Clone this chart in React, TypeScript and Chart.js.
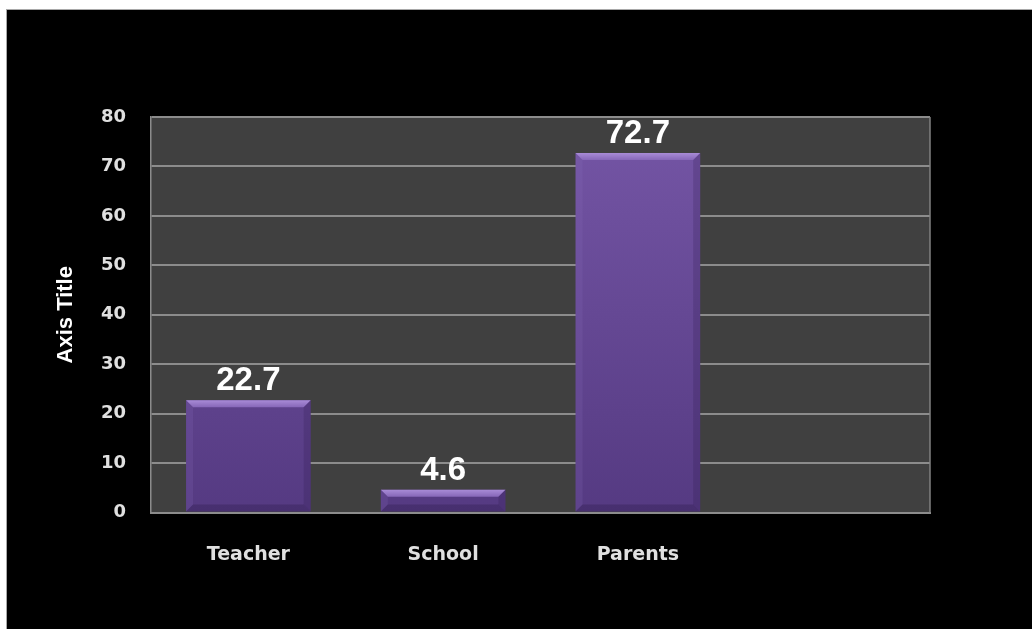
import React, { useEffect, useRef } from "react";
import { Chart, registerables } from "chart.js";

Chart.register(...registerables);

const categories = ["Teacher", "School", "Parents", ""];
const values = [22.7, 4.6, 72.7, null];
const yTicks = { min: 0, max: 80, step: 10 };
const axisTitle = "Axis Title";

const plotFrame = {
  id: "plotFrame",
  beforeDraw(chart: any) {
    const { ctx, chartArea: a } = chart;
    ctx.save();
    ctx.fillStyle = "#404040";
    ctx.fillRect(a.left, a.top, a.right - a.left, a.bottom - a.top);
    ctx.restore();
  },
  afterDraw(chart: any) {
    const { ctx, chartArea: a } = chart;
    ctx.save();
    ctx.strokeStyle = "#808080";
    ctx.lineWidth = 1.5;
    ctx.beginPath();
    ctx.moveTo(a.right, a.top);
    ctx.lineTo(a.right, a.bottom);
    ctx.stroke();
    ctx.restore();
  },
};

const bevelBars = {
  id: "bevelBars",
  afterDatasetsDraw(chart: any) {
    const { ctx } = chart;
    const meta = chart.getDatasetMeta(0);
    meta.data.forEach((bar: any, i: number) => {
      const v = values[i];
      if (v == null) return;
      const { x, y, base, width } = bar.getProps(["x", "y", "base", "width"], true);
      const l = x - width / 2;
      const r = x + width / 2;
      const t = y;
      const b = base;
      const bv = Math.min(7, (b - t) / 2);
      ctx.save();
      // top bevel
      const g = ctx.createLinearGradient(0, t, 0, t + bv);
      g.addColorStop(0, "#a88bd6");
      g.addColorStop(1, "#8667b8");
      ctx.fillStyle = g;
      ctx.beginPath();
      ctx.moveTo(l, t);
      ctx.lineTo(r, t);
      ctx.lineTo(r - bv, t + bv);
      ctx.lineTo(l + bv, t + bv);
      ctx.closePath();
      ctx.fill();
      // left bevel
      ctx.fillStyle = "rgba(140,110,190,0.18)";
      ctx.beginPath();
      ctx.moveTo(l, t);
      ctx.lineTo(l + bv, t + bv);
      ctx.lineTo(l + bv, b - bv);
      ctx.lineTo(l, b);
      ctx.closePath();
      ctx.fill();
      // right bevel
      ctx.fillStyle = "rgba(40,20,70,0.2)";
      ctx.beginPath();
      ctx.moveTo(r, t);
      ctx.lineTo(r - bv, t + bv);
      ctx.lineTo(r - bv, b - bv);
      ctx.lineTo(r, b);
      ctx.closePath();
      ctx.fill();
      // bottom bevel
      ctx.fillStyle = "rgba(30,15,55,0.25)";
      ctx.beginPath();
      ctx.moveTo(l, b);
      ctx.lineTo(l + bv, b - bv);
      ctx.lineTo(r - bv, b - bv);
      ctx.lineTo(r, b);
      ctx.closePath();
      ctx.fill();
      // value label
      ctx.fillStyle = "#ffffff";
      ctx.font = "bold 33px 'Liberation Sans', Arial, sans-serif";
      ctx.textAlign = "center";
      ctx.textBaseline = "alphabetic";
      ctx.fillText(String(v), x, t - 10);
      ctx.restore();
    });
  },
};

export default function App() {
  const ref = useRef<HTMLCanvasElement | null>(null);

  useEffect(() => {
    document.body.style.margin = "0";
    document.body.style.background = "#ffffff";
    const canvas = ref.current!;
    const chart = new Chart(canvas, {
      type: "bar",
      data: {
        labels: categories,
        datasets: [
          {
            data: values as any,
            backgroundColor: (c: any) => {
              const area = c.chart.chartArea;
              if (!area) return "#6a4e98";
              const g = c.chart.ctx.createLinearGradient(0, area.top, 0, area.bottom);
              g.addColorStop(0, "#7556a6");
              g.addColorStop(1, "#553a82");
              return g;
            },
            borderWidth: 0,
            categoryPercentage: 1,
            barPercentage: 0.64,
          },
        ],
      },
      options: {
        animation: false,
        responsive: false,
        maintainAspectRatio: false,
        layout: { padding: { top: 107, right: 102, left: 0, bottom: 0 } },
        plugins: {
          legend: { display: false },
          tooltip: { enabled: false },
        },
        scales: {
          x: {
            grid: { display: false, drawTicks: false },
            border: { display: true, color: "#8c8c8c", width: 2 },
            ticks: {
              color: "#e0e0e0",
              font: { family: "'DejaVu Sans', Verdana, sans-serif", weight: "bold", size: 19 },
              padding: 31,
            },
            afterFit: (s: any) => {
              s.height = 116.5;
            },
          },
          y: {
            min: yTicks.min,
            max: yTicks.max,
            grid: { color: "#8c8c8c", lineWidth: 2, drawTicks: false },
            border: { display: true, color: "#8c8c8c", width: 1.5 },
            ticks: {
              stepSize: yTicks.step,
              color: "#e0e0e0",
              font: { family: "'DejaVu Sans', Verdana, sans-serif", weight: "bold", size: 18 },
              padding: 25,
            },
            title: {
              display: true,
              text: axisTitle,
              color: "#ffffff",
              font: { family: "'Liberation Sans', Arial, sans-serif", weight: "bold", size: 22 },
              padding: { top: 46, bottom: 0 },
            },
            afterFit: (s: any) => {
              s.width = 144;
            },
          },
        },
      },
      plugins: [plotFrame, bevelBars],
    });
    return () => chart.destroy();
  }, []);

  return (
    <div
      style={{
        marginLeft: 6,
        marginTop: 9,
        width: 1026,
        height: 620,
        boxSizing: "border-box",
        borderLeft: "1px solid #a8a8a8",
        borderTop: "1px solid #a8a8a8",
        background: "#000000",
        overflow: "hidden",
      }}
    >
      <canvas ref={ref} width={1025} height={619} style={{ display: "block", width: 1025, height: 619 }} />
    </div>
  );
}
